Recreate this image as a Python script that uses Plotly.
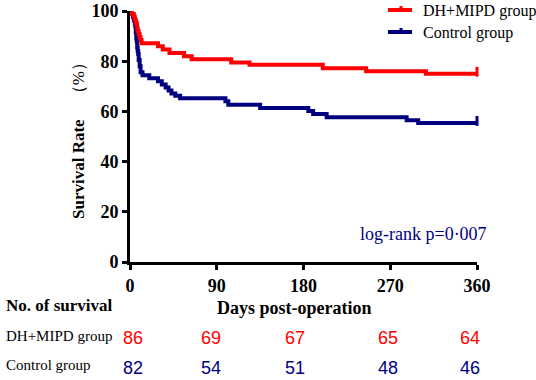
import plotly.graph_objects as go

# ---- data ----
red_days = [0, 2, 4, 5, 6, 7, 7.5, 8, 9, 10, 11, 12, 29, 34, 41, 56, 64, 105, 124, 200, 245, 307, 360]
red_surv = [100, 98.8, 97.7, 96.5, 95.3, 94.2, 93.0, 91.9, 90.7, 89.5, 88.4, 87.2, 86.0, 84.7, 83.3, 82.0,
            80.8, 79.5, 78.6, 77.2, 76.0, 75.0, 75.0]

blue_days = [0, 2, 3, 4, 5, 5.5, 6, 6.5, 7, 7.5, 8, 8.5, 9, 10, 11, 13, 20, 29, 33, 37, 40, 43, 47, 52,
             99, 102, 135, 185, 190, 204, 287, 299, 360]
blue_surv = [100, 98.8, 97.6, 96.3, 95.1, 93.9, 91.5, 89.0, 87.8, 85.4, 84.1, 82.9, 80.5, 78.0, 75.6, 74.4,
             73.2, 72.0, 70.7, 69.5, 68.3, 67.1, 66.2, 65.2, 64.0, 62.6, 61.4, 60.2, 59.0, 57.7, 56.5, 55.4, 55.4]

x_ticks = [0, 90, 180, 270, 360]
y_ticks = [0, 20, 40, 60, 80, 100]
groups = ["DH+MIPD group", "Control group"]
risk_red = [86, 69, 67, 65, 64]
risk_blue = [82, 54, 51, 48, 46]

RED = "#FF0000"
BLUE = "#00007F"
SERIF = "Liberation Serif"
SANS = "Liberation Sans"

fig = go.Figure()
fig.add_trace(go.Scatter(x=blue_days, y=blue_surv, mode="lines", line=dict(color=BLUE, width=4, shape="hv"),
                         showlegend=False))
fig.add_trace(go.Scatter(x=red_days, y=red_surv, mode="lines", line=dict(color=RED, width=4, shape="hv"),
                         showlegend=False))
# censor ticks at end
fig.add_trace(go.Scatter(x=[red_days[-1]], y=[red_surv[-1] + 0.8], mode="markers", cliponaxis=False,
                         marker=dict(symbol="line-ns", size=7, line=dict(color=RED, width=3)), showlegend=False))
fig.add_trace(go.Scatter(x=[blue_days[-1]], y=[blue_surv[-1] + 0.8], mode="markers", cliponaxis=False,
                         marker=dict(symbol="line-ns", size=7, line=dict(color=BLUE, width=3)), showlegend=False))

W, H = 536, 380
L, R, T, B = 130, 59, 11, 118
pw, ph = W - L - R, H - T - B


def px(x):
    return (x - L) / pw


def py(y):
    return (H - B - y) / ph


annots = []
# y-axis title
annots.append(dict(x=px(78), y=py(137), xref="paper", yref="paper", textangle=-90, showarrow=False,
                   text="<b>Survival Rate</b>\u3000（%）", font=dict(family=SERIF, size=17, color="black"),
                   xanchor="center", yanchor="middle"))
# x-axis title
annots.append(dict(x=px(294), y=py(308), xref="paper", yref="paper", showarrow=False,
                   text="<b>Days post-operation</b>", font=dict(family=SERIF, size=18, color="black"),
                   xanchor="center", yanchor="middle"))
annots.append(dict(x=px(4), y=py(305), xref="paper", yref="paper", showarrow=False,
                   text="<b>No. of survival</b>", font=dict(family=SERIF, size=17, color="black"),
                   xanchor="left", yanchor="middle"))
annots.append(dict(x=px(4), y=py(336), xref="paper", yref="paper", showarrow=False,
                   text=groups[0], font=dict(family=SERIF, size=15, color="black"),
                   xanchor="left", yanchor="middle"))
annots.append(dict(x=px(4), y=py(365), xref="paper", yref="paper", showarrow=False,
                   text=groups[1], font=dict(family=SERIF, size=15, color="black"),
                   xanchor="left", yanchor="middle"))
# risk numbers
risk_x = [133, 211, 295, 388, 470]
for xi, v in zip(risk_x, risk_red):
    annots.append(dict(x=px(xi), y=py(338), xref="paper", yref="paper", showarrow=False, text=str(v),
                       font=dict(family=SANS, size=18, color=RED), xanchor="center", yanchor="middle"))
for xi, v in zip(risk_x, risk_blue):
    annots.append(dict(x=px(xi), y=py(368), xref="paper", yref="paper", showarrow=False, text=str(v),
                       font=dict(family=SANS, size=18, color=BLUE), xanchor="center", yanchor="middle"))
# log-rank text
annots.append(dict(x=px(489), y=py(234), xref="paper", yref="paper", showarrow=False, text="log-rank p=0·007",
                   font=dict(family=SERIF, size=18, color=BLUE), xanchor="right", yanchor="middle"))
# legend text
annots.append(dict(x=px(421), y=py(11), xref="paper", yref="paper", showarrow=False, text=groups[0],
                   font=dict(family=SERIF, size=16, color="black"), xanchor="left", yanchor="middle"))
annots.append(dict(x=px(421), y=py(33), xref="paper", yref="paper", showarrow=False, text=groups[1],
                   font=dict(family=SERIF, size=16, color="black"), xanchor="left", yanchor="middle"))

shapes = []
for yy, col in [(10, RED), (32, BLUE)]:
    shapes.append(dict(type="line", xref="paper", yref="paper", x0=px(388), x1=px(412), y0=py(yy), y1=py(yy),
                       line=dict(color=col, width=4)))
    shapes.append(dict(type="line", xref="paper", yref="paper", x0=px(401), x1=px(401), y0=py(yy), y1=py(yy - 4),
                       line=dict(color=col, width=3)))

fig.update_layout(
    width=W, height=H,
    margin=dict(l=L, r=R, t=T, b=B, autoexpand=False),
    plot_bgcolor="white", paper_bgcolor="white",
    annotations=annots, shapes=shapes,
    xaxis=dict(range=[0, 360], tickvals=x_ticks, ticktext=[str(v) for v in x_ticks], automargin=False,
               showgrid=False, zeroline=False, showline=True, linecolor="black", linewidth=3,
               ticks="outside", ticklen=5, tickwidth=3, tickcolor="black",
               tickfont=dict(family=SERIF, size=18, color="black", weight="bold")),
    yaxis=dict(range=[0, 100], tickvals=y_ticks, ticktext=[str(v) for v in y_ticks], automargin=False,
               showgrid=False, zeroline=False, showline=True, linecolor="black", linewidth=3,
               ticks="outside", ticklen=5, tickwidth=3, tickcolor="black",
               tickfont=dict(family=SERIF, size=18, color="black", weight="bold")),
)

fig.write_html("out.html", config={"displayModeBar": False},
               post_script="document.body.style.margin='0';document.body.style.overflow='hidden';")
